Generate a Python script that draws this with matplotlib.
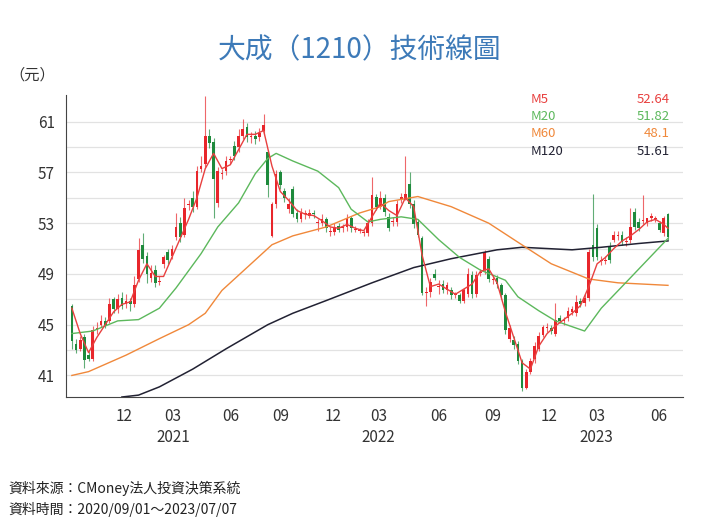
import matplotlib.pyplot as plt
import numpy as np

plt.rcParams["font.family"] = ["Noto Sans CJK JP", "Noto Sans CJK TC", "Noto Sans CJK SC", "DejaVu Sans"]

# weekly candles, 2020/09 - 2023/07
opens = [46.5, 43.5, 43.1, 44, 42.6, 42.3, 44.6, 45, 45.3, 45.3, 47, 46.2, 47.1, 46.6, 46.9, 46.6, 48.6, 51.3, 50.4, 48.7,
         49.3, 48.4, 49.8, 50.7, 50.4, 51.9, 53, 52.1, 54.4, 55, 54.3, 57.3, 57.7, 59.9, 59.4, 54.6, 56.9, 57.1, 58, 59.1,
         59, 59.9, 60.6, 59.8, 59.9, 59.8, 60.3, 58.6, 52, 54.5, 57, 55.5, 54.1, 55.7, 53.8, 53.3, 53.7, 53.6, 53.8, 53,
         53, 53.3, 52.3, 52.3, 52.8, 52.6, 52.7, 53.4, 52.5, 52.4, 52.2, 52.2, 53, 55.1, 54.3, 55, 53.5, 53.1, 53.1, 54.9,
         55, 56.1, 54.5, 53.1, 51.8, 47.5, 47.6, 49, 48, 48.2, 47.7, 47.7, 47.3, 47.3, 46.9, 47.4, 48.9, 47.4, 49.1, 49.3,
         50.2, 48.5, 48.7, 48.1, 47.3, 43.9, 43.8, 43.5, 42.1, 40, 41.3, 42.3, 43.1, 44.2, 44.7, 44.7, 44.3, 45.5, 45.3, 45.5,
         46, 45.9, 46.9, 46.7, 47.1, 51.3, 52.6, 50, 50, 51.2, 51.7, 52, 52.1, 51.5, 51.7, 53.9, 53.1, 53.2, 53, 53.4,
         53.3, 53, 52.2, 53.7]
closes = [43.7, 43, 43.8, 42.2, 42.3, 44.6, 44.7, 45.3, 45, 46.6, 46.2, 47, 46.5, 46.9, 46.6, 48.1, 50.9, 50.2, 49, 49.1,
          48.3, 48.4, 50.3, 50.1, 51, 52.7, 51.9, 54.2, 54.4, 54.3, 57.1, 57.5, 59.9, 59.3, 56.5, 57.1, 56.9, 57.9, 58, 58.3,
          59.9, 60.4, 59.8, 59.8, 59.6, 60.1, 60.7, 56, 54.5, 56.9, 56, 55, 54.5, 53.7, 53.3, 53.8, 53.7, 53.8, 53.7, 53,
          53.3, 52.6, 52.3, 52.7, 52.5, 52.6, 53.4, 52.6, 52.5, 52.4, 52.2, 53, 55.2, 54.3, 55, 53.9, 52.6, 53.1, 54.5, 55.1,
          55.3, 54.5, 52.9, 52.1, 47.5, 47.5, 48.4, 48.7, 48, 47.7, 48.1, 47.3, 47.3, 46.9, 47.7, 49, 47.4, 48.9, 49.1, 50.7,
          48.6, 48.5, 48.2, 47.3, 44.6, 44.7, 43.4, 42.1, 40, 41.3, 42.1, 43.3, 44.1, 44.8, 44.7, 44.5, 45.4, 45.3, 45.3, 46.1,
          46.2, 46.8, 46.6, 47.1, 50.7, 50.3, 50.3, 50, 50, 50.1, 52.1, 52, 51.5, 51.5, 52.7, 52.7, 52.6, 53.2, 53.4, 53.6,
          53.3, 52.5, 53.4, 51.9]
highs = [46.6, 43.9, 44.1, 44.3, 42.9, 44.9, 45.2, 45.8, 45.6, 47.1, 47.2, 47.4, 47.6, 47.4, 47.1, 48.8, 51.8, 52.2, 50.7, 49.7,
         49.7, 48.8, 50.5, 51, 51.3, 53.8, 53.5, 55, 54.8, 55.5, 57.5, 58.3, 63, 60.4, 59.7, 57.4, 57.3, 58.3, 58.3, 59.5,
         60.4, 61.2, 60.9, 60.2, 60.3, 60.5, 61.6, 58.8, 54.7, 57.2, 57.2, 55.8, 55, 55.9, 54.1, 54.2, 54, 54.1, 54, 53.3,
         53.7, 53.5, 52.7, 53, 53, 52.9, 53.7, 53.6, 52.8, 52.6, 52.5, 53.3, 56.6, 55.3, 55.5, 55.3, 53.8, 53.5, 54.8, 55.4,
         58.3, 57, 54.8, 53.3, 52, 48, 48.7, 49.4, 48.5, 48.5, 48.4, 48, 47.6, 47.5, 47.9, 49.5, 49.2, 49.2, 49.4, 50.9,
         50.4, 48.8, 48.9, 48.3, 47.5, 45, 44.1, 43.7, 42.3, 41.5, 42.4, 43.6, 44.4, 45, 45.1, 45, 46.7, 45.8, 45.6, 46.4,
         46.5, 47.3, 47.1, 47.4, 51, 55.3, 52.9, 50.4, 50.4, 51.5, 52.4, 52.4, 52.4, 51.9, 54.2, 54.2, 53.4, 55.2, 53.4, 53.8,
         53.6, 53.2, 53.6, 53.8]
lows = [43.1, 42.8, 42.9, 41.6, 42.1, 42.1, 44.3, 44.8, 44.7, 45.1, 45.9, 45.9, 46.2, 46.3, 46.1, 46.4, 48.4, 49.9, 48.3, 48.4,
        48, 48.1, 49.5, 49.8, 50.2, 51.7, 51.5, 51.9, 54, 53.9, 54.1, 57, 57.4, 58.9, 53.4, 54.3, 56.5, 56.8, 57.7, 58,
        58.6, 59.6, 59.4, 59.3, 59.2, 59.5, 60, 55.1, 51.9, 54.2, 55.7, 54.7, 53.8, 53.5, 53.1, 53.1, 53.3, 53.4, 53.4, 52.4,
        52.8, 52.3, 52, 52.1, 52.3, 52.3, 52.4, 52.3, 52.3, 52.2, 52, 52, 52.8, 54, 54.1, 53.6, 52.4, 52.8, 52.8, 54.6,
        54.8, 54.2, 52.6, 51.9, 47.3, 46.5, 47.2, 48.5, 47.4, 47.5, 47.4, 47, 47.1, 46.7, 46.7, 47.2, 47.1, 47.2, 48.8, 49,
        48.4, 48.2, 47.9, 47, 44.3, 43.6, 43.1, 41.9, 39.8, 39.9, 41.1, 42, 42.9, 44, 44.4, 44.3, 44.1, 45.1, 45, 45.3,
        45.8, 45.7, 46.4, 46.5, 46.9, 50, 50.1, 49.7, 49.8, 49.9, 51.5, 51.7, 51.3, 51.2, 51.4, 52.5, 52.4, 52.9, 52.8, 53.2,
        53.1, 52.3, 52, 51.7]

# moving averages, read at candle positions
ma5_idx = list(range(0, 143, 2)) + [143]
ma5_val = [46.3, 44.3, 42.8, 44, 45, 46, 46.6, 46.8, 48.5, 49.8, 48.8, 48.8, 50.3, 51.8, 53.3, 55, 57.3, 58.5, 57.3, 57.6,
           58.8, 60, 60, 60.3, 57.5, 55.5, 54.8, 54, 53.7, 53.6, 53.2, 52.7, 52.6, 52.9, 52.6, 52.4, 53.5, 54.6, 54, 53.6,
           55, 54.3, 50.5, 48, 48.2, 47.8, 47.4, 47.8, 48.2, 49.2, 49.4, 48.3, 46, 44, 42, 41.5, 43.3, 44.3, 44.9, 45.4,
           45.9, 46.5, 48, 49.8, 50.3, 51, 51.6, 52, 52.5, 53.1, 53.3, 52.9, 52.6]
ma20_idx = [0, 5, 11, 16, 21, 25, 31, 35, 40, 44, 47, 49, 53, 59, 64, 67, 71, 74, 79, 83, 88, 93, 98, 104, 107, 112, 116, 123, 127, 134, 143]
ma20_val = [44.3, 44.5, 45.3, 45.4, 46.3, 47.9, 50.6, 52.7, 54.6, 56.9, 58.1, 58.5, 57.9, 57.1, 55.8, 54.1, 53.1, 53.3,
            53.5, 53.3, 51.7, 50.3, 49.3, 48.5, 47.2, 46.1, 45.3, 44.5, 46.3, 48.7, 51.8]
ma60_idx = [0, 4, 13, 21, 28, 32, 36, 42, 48, 53, 61, 69, 74, 76, 83, 91, 100, 107, 115, 124, 131, 143]
ma60_val = [41, 41.3, 42.6, 43.9, 45, 45.9, 47.7, 49.5, 51.3, 52, 52.7, 53.8, 54.3, 54.7, 55.1, 54.3, 53, 51.5, 49.8, 48.6, 48.3, 48.1]
ma120_idx = [12, 16, 21, 29, 37, 47, 53, 61, 72, 82, 91, 102, 108, 120, 127, 136, 143]
ma120_val = [39.3, 39.45, 40.1, 41.5, 43.1, 45, 45.9, 46.9, 48.3, 49.5, 50.2, 50.9, 51.1, 50.9, 51.1, 51.4, 51.6]

tick_pos = [12.5, 24.3, 38, 50, 62.7, 73.5, 88, 101, 114.5, 125.8, 140.9]
tick_lbl = ["12", "03", "06", "09", "12", "03", "06", "09", "12", "03", "06"]
year_pos = [24.3, 73.5, 125.8]
year_lbl = ["2021", "2022", "2023"]

legend_names = ["M5", "M20", "M60", "M120"]
legend_vals = ["52.64", "51.82", "48.1", "51.61"]

UP, DOWN = "#e8262b", "#1e8a3c"
MA_COLORS = ["#e8403f", "#5cb85c", "#f0883a", "#222233"]

fig = plt.figure(figsize=(7.2, 5.29), dpi=100)
ax = fig.add_axes([0.0917, 0.2495, 0.8569, 0.5709])

x = np.arange(len(closes))
for i in x:
    o, c = opens[i], closes[i]
    col = UP if c >= o else DOWN
    ax.vlines(i, lows[i], highs[i], color=col, linewidth=0.8, alpha=0.7, zorder=2)
    ax.bar(i, max(abs(c - o), 0.08), bottom=min(o, c), width=0.65, color=col, zorder=3)

ax.plot(ma120_idx, ma120_val, color=MA_COLORS[3], lw=1.1, zorder=4)
ax.plot(ma60_idx, ma60_val, color=MA_COLORS[2], lw=1.0, zorder=4)
ax.plot(ma20_idx, ma20_val, color=MA_COLORS[1], lw=1.0, zorder=4)
ax.plot(ma5_idx, ma5_val, color=MA_COLORS[0], lw=1.0, zorder=4)

ax.set_xlim(-1.4, 146.6)
ax.set_ylim(39.3, 63.1)
ax.set_yticks(np.arange(41, 63, 2), minor=True)
ax.set_yticks(np.arange(41, 62, 4))
ax.grid(axis="y", which="both", color="#e2e2e2", lw=0.9, zorder=0)
ax.tick_params(axis="both", which="both", length=0, labelsize=11, colors="#333333", pad=8)
ax.set_xticks(tick_pos)
ax.set_xticklabels(tick_lbl)
for s in ["top", "right"]:
    ax.spines[s].set_visible(False)
ax.spines["left"].set_color("#444444")
ax.spines["bottom"].set_color("#444444")

for p, lbl in zip(year_pos, year_lbl):
    ax.text(p, -0.135, lbl, transform=ax.get_xaxis_transform(), ha="center", va="center", fontsize=11, color="#333333")

for k, (n, v) in enumerate(zip(legend_names, legend_vals)):
    yy = 0.985 - k * 0.057
    ax.text(0.753, yy, n, transform=ax.transAxes, color=MA_COLORS[k], fontsize=9.5, va="center")
    ax.text(0.978, yy, v, transform=ax.transAxes, color=MA_COLORS[k], fontsize=9.5, va="center", ha="right")

fig.text(0.5, 0.905, "大成（1210）技術線圖", ha="center", va="center", fontsize=20, color="#3d7ab8")
fig.text(0.045, 0.858, "（元）", ha="center", va="center", fontsize=11, color="#333333")
fig.text(0.012, 0.077, "資料來源：CMoney法人投資決策系統", fontsize=10, color="#222222", va="center")
fig.text(0.012, 0.036, "資料時間：2020/09/01～2023/07/07", fontsize=10, color="#222222", va="center")

fig.savefig("out.png", dpi=100)
